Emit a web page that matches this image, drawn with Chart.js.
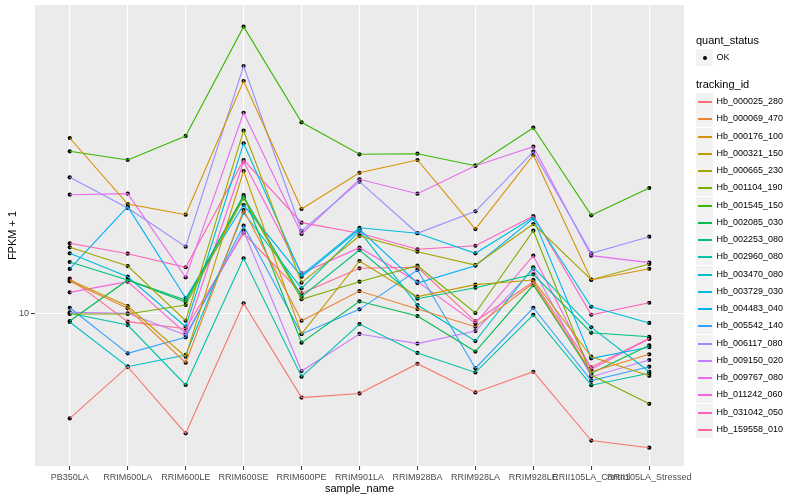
<!DOCTYPE html>
<html><head><meta charset="utf-8">
<script src="https://cdn.jsdelivr.net/npm/chart.js@4/dist/chart.umd.min.js"></script>
<style>
html,body{margin:0;padding:0;background:#fff;}
#wrap{position:relative;width:800px;height:500px;font-family:"Liberation Sans",Arial,Helvetica,sans-serif;overflow:hidden;}
#c{position:absolute;left:0;top:0;}
.abs{position:absolute;white-space:nowrap;}
</style></head><body>
<div id="wrap"><canvas id="c" width="800" height="500"></canvas><div id="legend"></div></div>
<script>
// ---- data ----
const categories = ["PB350LA","RRIM600LA","RRIM600LE","RRIM600SE","RRIM600PE","RRIM901LA","RRIM928BA","RRIM928LA","RRIM928LE","RRII105LA_Control","RRII105LA_Stressed"];
const trackingIds = ["Hb_000025_280","Hb_000069_470","Hb_000176_100","Hb_000321_150","Hb_000665_230","Hb_001104_190","Hb_001545_150","Hb_002085_030","Hb_002253_080","Hb_002960_080","Hb_003470_080","Hb_003729_030","Hb_004483_040","Hb_005542_140","Hb_006117_080","Hb_009150_020","Hb_009767_080","Hb_011242_060","Hb_031042_050","Hb_159558_010"];
const quantStatus = ["OK"];
const yTicks = [10];

const hb_000025_280 = [5.03, 7.07, 4.56, 10.73, 5.77, 5.93, 7.21, 5.97, 6.84, 4.35, 4.15];
const hb_000069_470 = [12.40, 10.38, 7.26, 19.82, 9.57, 11.63, 10.33, 9.20, 12.24, 6.84, 7.67];
const hb_000176_100 = [31.83, 20.62, 19.22, 46.32, 19.95, 25.33, 27.54, 17.49, 28.47, 12.51, 13.47];
const hb_000321_150 = [12.51, 10.54, 7.55, 25.62, 8.77, 14.17, 11.21, 12.13, 12.51, 7.55, 6.66];
const hb_000665_230 = [15.51, 13.71, 9.57, 33.40, 12.29, 16.71, 15.07, 13.80, 18.08, 12.53, 13.90];
const hb_001104_190 = [10.00, 10.00, 10.61, 21.41, 11.02, 12.37, 13.74, 10.07, 17.30, 6.69, 5.54];
const hb_001545_150 = [29.17, 27.54, 32.26, 66.21, 35.30, 28.60, 28.71, 26.53, 34.06, 19.14, 22.91];
const hb_002085_030 = [9.55, 12.51, 10.82, 21.88, 8.28, 10.87, 9.87, 7.81, 12.10, 6.77, 8.14];
const hb_002253_080 = [14.08, 12.51, 10.96, 21.63, 11.21, 15.24, 11.06, 11.89, 12.98, 8.84, 8.61];
const hb_002960_080 = [10.05, 9.30, 6.27, 14.43, 6.62, 9.36, 7.74, 6.81, 9.95, 6.26, 6.77];
const hb_003470_080 = [9.49, 7.07, 7.64, 19.47, 11.84, 17.26, 10.61, 8.37, 13.60, 9.16, 6.84];
const hb_003729_030 = [14.91, 12.78, 9.20, 30.74, 12.92, 17.64, 17.01, 14.91, 18.89, 10.49, 9.43];
const hb_004483_040 = [13.45, 20.26, 11.11, 20.48, 12.78, 17.46, 12.26, 13.74, 18.77, 7.47, 8.04];
const hb_005542_140 = [10.42, 7.72, 8.58, 17.88, 8.77, 10.31, 13.36, 7.00, 10.42, 6.45, 7.07];
const hb_006117_080 = [24.58, 20.09, 15.57, 51.12, 17.26, 23.88, 17.01, 19.65, 29.09, 14.91, 16.63];
const hb_009150_020 = [10.11, 10.05, 8.71, 17.30, 6.87, 8.77, 8.23, 8.94, 13.45, 6.62, 7.39];
const hb_009767_080 = [21.92, 22.07, 12.73, 37.59, 16.93, 24.26, 22.07, 26.53, 30.06, 14.68, 14.02];
const hb_011242_060 = [11.53, 12.37, 8.81, 27.23, 13.07, 15.47, 12.37, 9.41, 14.68, 6.95, 8.49];
const hb_031042_050 = [15.92, 14.87, 13.60, 27.54, 18.24, 17.01, 15.31, 15.67, 19.05, 9.95, 10.77];
const hb_159558_010 = [12.62, 9.51, 9.08, 17.01, 11.46, 13.51, 13.60, 9.53, 12.37, 7.04, 8.52];

const seriesValues = [hb_000025_280, hb_000069_470, hb_000176_100, hb_000321_150, hb_000665_230, hb_001104_190, hb_001545_150, hb_002085_030, hb_002253_080, hb_002960_080, hb_003470_080, hb_003729_030, hb_004483_040, hb_005542_140, hb_006117_080, hb_009150_020, hb_009767_080, hb_011242_060, hb_031042_050, hb_159558_010];

// ---- styles ----
const palette = ["#F8766D","#EA8331","#D89000","#C09B00","#A3A500","#7CAE00","#39B600","#00BB4E","#00BF7D","#00C1A3","#00BFC4","#00BAE0","#00B0F6","#35A2FF","#9590FF","#C77CFF","#E76BF3","#FA62DB","#FF62BC","#FF6C91"];
const FONT = '"Liberation Sans", Arial, Helvetica, sans-serif';

const toXY = vals => vals.map((v, i) => ({x: i, y: v}));
const lineSets = seriesValues.map((vals, k) => ({
  label: trackingIds[k], data: toXY(vals), borderColor: palette[k], backgroundColor: palette[k],
  borderWidth: 1.1, pointRadius: 0, tension: 0, fill: false
}));
const pointSets = seriesValues.map((vals, k) => ({
  label: trackingIds[k] + ' ' + quantStatus[0], data: toXY(vals), showLine: false,
  pointRadius: 2.1, pointBackgroundColor: '#000', pointBorderWidth: 0, borderColor: '#000'
}));

const panelBg = {
  id: 'panelBg',
  beforeDraw(chart) {
    const {ctx, chartArea: a} = chart;
    ctx.save(); ctx.fillStyle = '#EBEBEB';
    ctx.fillRect(a.left, a.top, a.right - a.left, a.bottom - a.top);
    ctx.restore();
  }
};

new Chart(document.getElementById('c'), {
  type: 'line',
  data: { datasets: [...lineSets, ...pointSets] },
  plugins: [panelBg],
  options: {
    responsive: false, animation: false, events: [],
    layout: { padding: { left: 0, top: 5, right: 116, bottom: 0 } },
    plugins: { legend: { display: false }, tooltip: { enabled: false } },
    scales: {
      x: {
        type: 'linear', min: -0.6, max: 10.6,
        afterBuildTicks: s => { s.ticks = categories.map((c, i) => ({ value: i })); },
        afterFit: s => { s.height = 34; s.paddingLeft = 0; s.paddingRight = 0; },
        ticks: { autoSkip: false, maxRotation: 0, minRotation: 0, padding: 2, color: '#4D4D4D',
                 font: { family: FONT, size: 9 }, callback: v => categories[v] ?? '' },
        grid: { color: '#FFFFFF', lineWidth: 1.1, tickColor: '#333333', tickLength: 4, tickWidth: 1 },
        border: { display: false },
        title: { display: true, text: 'sample_name', color: '#000', font: { family: FONT, size: 11 }, padding: { top: 0, bottom: 4.4 } }
      },
      y: {
        type: 'logarithmic', min: 3.679, max: 76.36,
        afterBuildTicks: s => { s.ticks = yTicks.map(v => ({ value: v })); },
        afterFit: s => { s.width = 35; s.paddingTop = 0; s.paddingBottom = 0; },
        ticks: { padding: 2, color: '#4D4D4D', font: { family: FONT, size: 9 }, callback: v => String(v) },
        grid: { color: '#FFFFFF', lineWidth: 1.1, tickColor: '#333333', tickLength: 4, tickWidth: 1 },
        border: { display: false },
        title: { display: true, text: 'FPKM + 1', color: '#000', font: { family: FONT, size: 11 }, padding: { top: 6, bottom: 0 } }
      }
    }
  }
});

// ---- legend (HTML text) ----
const lg = document.getElementById('legend');
function add(html, css) { const d = document.createElement('div'); d.className = 'abs'; d.style.cssText = css; d.innerHTML = html; lg.appendChild(d); return d; }
add('quant_status', 'left:696px;top:34px;font-size:11px;line-height:13px;color:#000;');
add('', 'left:696px;top:49px;width:17px;height:17px;background:#F2F2F2;');
add('', 'left:702.5px;top:55.5px;width:4px;height:4px;border-radius:50%;background:#000;');
add(quantStatus[0], 'left:716.5px;top:51px;font-size:9px;line-height:12px;color:#000;');
add('tracking_id', 'left:696px;top:77.5px;font-size:11px;line-height:13px;color:#000;');
trackingIds.forEach((id, i) => {
  const cy = Math.round(101 + 17.25 * i);
  add('', `left:696px;top:${cy - 8}px;width:17px;height:16.5px;background:#F2F2F2;`);
  add('', `left:698px;top:${cy}px;width:14px;height:1.5px;background:${palette[i]};`);
  add(id, `left:716.5px;top:${cy - 6}px;font-size:9px;line-height:12px;color:#000;`);
});
</script>
</body></html>
